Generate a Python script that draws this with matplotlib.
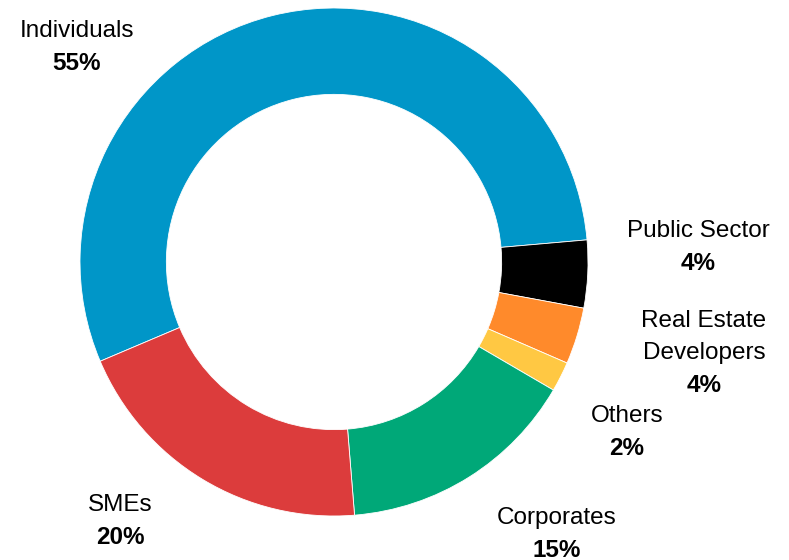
import matplotlib.pyplot as plt

plt.rcParams["font.family"] = ["Liberation Sans", "DejaVu Sans"]

# data, clockwise from the SMEs/Individuals boundary
categories = ["Individuals", "Public Sector", "Real Estate\nDevelopers", "Others", "Corporates", "SMEs"]
shares = [55.0, 4.3, 3.6, 1.9, 15.3, 19.9]
colors = ["#0096C8", "#000000", "#FF8A2B", "#FFC843", "#00A878", "#DC3C3C"]

W, H = 789, 560
CX, CY, R = 334, 262, 254  # donut centre and radius in pixels


def px(x, y):
    return (x - CX) / R, (CY - y) / R


fig = plt.figure(figsize=(W / 100, H / 100), dpi=100)
ax = fig.add_axes([0, 0, 1, 1])
ax.pie(
    shares,
    colors=colors,
    startangle=203,
    counterclock=False,
    radius=1,
    wedgeprops={"width": 0.34, "edgecolor": "white", "linewidth": 0.6},
)
ax.set_xlim(-CX / R, (W - CX) / R)
ax.set_ylim(-(H - CY) / R, CY / R)
ax.axis("off")

# label anchor points (pixel centre, baseline of first line)
label_pos = {
    "Individuals": (77, 37),
    "Public Sector": (698, 237),
    "Real Estate\nDevelopers": (704, 327),
    "Others": (627, 422),
    "Corporates": (557, 524),
    "SMEs": (120, 511),
}
line_step = 32

for name, share in zip(categories, shares):
    x0, y0 = label_pos[name]
    lines = name.split("\n")
    for i, line in enumerate(lines):
        ax.text(*px(x0, y0 + i * line_step), line, ha="center", va="baseline",
                fontsize=17.5, color="black")
    ax.text(*px(x0, y0 + len(lines) * line_step + 1), f"{round(share)}%", ha="center",
            va="baseline", fontsize=17.5, fontweight="bold", color="black")

fig.savefig("out.png", dpi=100)
